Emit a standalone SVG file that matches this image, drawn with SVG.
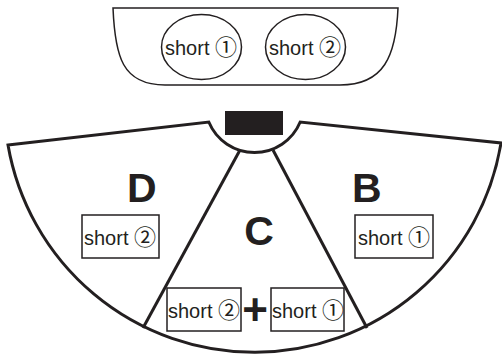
<svg xmlns="http://www.w3.org/2000/svg" width="502" height="358" viewBox="0 0 502 358">
<style>
.t{font-family:"Liberation Sans","Noto Sans CJK JP",sans-serif;font-size:20px;fill:#231f20}
.c{font-family:"Noto Sans CJK JP","DejaVu Sans",sans-serif;font-size:22px}
.big{font-family:"Liberation Sans",Arial,sans-serif;font-weight:bold;font-size:41px;fill:#231f20}
.thin{fill:#fff;stroke:#231f20;stroke-width:1.5}
.thick{fill:#fff;stroke:#231f20;stroke-width:3;stroke-linejoin:miter}
</style>
<rect width="502" height="358" fill="#fff"/>
<g id="top">
<path class="thin" d="M113,8 L398,8 C396,56 384,85 340,85 L165,85 C122,85 115,56 113,8 Z"/>
<g id="e1"><ellipse class="thin" cx="201.5" cy="47" rx="40" ry="32.5"/><text class="t" x="165" y="55">short <tspan class="c">①</tspan></text></g>
<g id="e2"><ellipse class="thin" cx="305.5" cy="47" rx="40" ry="32.5"/><text class="t" x="269" y="55">short <tspan class="c">②</tspan></text></g>
</g>
<g id="fan">
<path class="thick" d="M8,145 L208.8,122 A49.5,49.5 0 0 0 300.2,122 L501,143 A250,250 0 0 1 8,145 Z"/>
<rect x="225" y="111" width="58" height="24" fill="#231f20"/>
</g>
<g id="connectors">
<line x1="240" y1="150" x2="143" y2="328" stroke="#231f20" stroke-width="3"/>
<line x1="273" y1="150" x2="367" y2="328" stroke="#231f20" stroke-width="3"/>
</g>
<g id="D">
<text class="big" x="127" y="202">D</text>
<rect class="thin" x="82" y="215" width="77" height="43"/>
<text class="t" x="84" y="245">short <tspan class="c">②</tspan></text>
</g>
<g id="B">
<text class="big" x="352" y="202">B</text>
<rect class="thin" x="355" y="215" width="78" height="43"/>
<text class="t" x="358" y="245">short <tspan class="c">①</tspan></text>
</g>
<g id="C">
<text class="big" x="259" y="245" text-anchor="middle">C</text>
<rect class="thin" x="167" y="288" width="74" height="43"/>
<text class="t" x="168" y="318">short <tspan class="c">②</tspan></text>
<text class="big" x="255" y="325" text-anchor="middle" style="font-size:44px">+</text>
<rect class="thin" x="271" y="288" width="73" height="43"/>
<text class="t" x="272" y="318">short <tspan class="c">①</tspan></text>
</g>
</svg>
